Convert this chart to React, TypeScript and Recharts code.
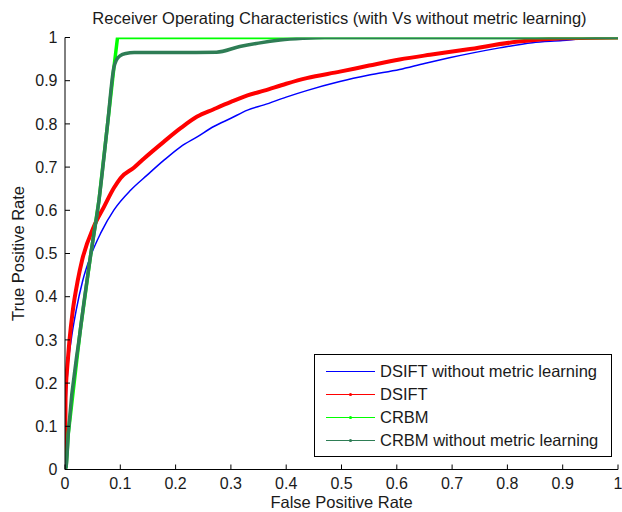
import { CartesianGrid, Legend, Line, LineChart, XAxis, YAxis } from 'recharts'

// ROC curves
const blueFpr = [0, 0.002, 0.005, 0.011, 0.02, 0.032, 0.046, 0.0645, 0.0886, 0.119, 0.149, 0.179, 0.209, 0.239, 0.269, 0.3, 0.33, 0.36, 0.4, 0.437, 0.497, 0.55, 0.605, 0.65, 0.695, 0.74, 0.786, 0.845, 0.9, 0.935, 0.97, 1]
const blueTpr = [0, 0.15, 0.23, 0.298, 0.367, 0.437, 0.493, 0.547, 0.601, 0.647, 0.682, 0.716, 0.747, 0.77, 0.794, 0.813, 0.832, 0.844, 0.862, 0.877, 0.898, 0.913, 0.926, 0.94, 0.953, 0.965, 0.976, 0.988, 0.993, 0.997, 1, 1]

const redFpr = [0, 0.001, 0.002, 0.004, 0.008, 0.014, 0.023, 0.031, 0.052, 0.0705, 0.0886, 0.1007, 0.125, 0.143, 0.179, 0.209, 0.239, 0.269, 0.3, 0.33, 0.36, 0.4, 0.437, 0.497, 0.55, 0.605, 0.66, 0.726, 0.816, 0.9, 1]
const redTpr = [0, 0.166, 0.2, 0.236, 0.298, 0.367, 0.437, 0.485, 0.562, 0.608, 0.652, 0.675, 0.699, 0.72, 0.759, 0.79, 0.817, 0.834, 0.851, 0.866, 0.877, 0.893, 0.906, 0.921, 0.935, 0.949, 0.96, 0.972, 0.99, 0.998, 1]

const greenFpr = [0, 0.002, 0.006, 0.027, 0.046, 0.0615, 0.0765, 0.0886, 0.095, 1]
const greenTpr = [0, 0.006, 0.084, 0.316, 0.493, 0.624, 0.794, 0.932, 1, 1]

const darkFpr = [0, 0.002, 0.006, 0.027, 0.046, 0.0615, 0.0765, 0.0886, 0.093, 0.1, 0.11, 0.125, 0.2, 0.274, 0.316, 0.35, 0.389, 0.43, 0.47, 1]
const darkTpr = [0, 0.006, 0.084, 0.316, 0.493, 0.624, 0.794, 0.932, 0.948, 0.958, 0.963, 0.965, 0.965, 0.966, 0.979, 0.987, 0.994, 0.998, 1, 1]

const xTicks = [0, 0.1, 0.2, 0.3, 0.4, 0.5, 0.6, 0.7, 0.8, 0.9, 1]
const yTicks = [0, 0.1, 0.2, 0.3, 0.4, 0.5, 0.6, 0.7, 0.8, 0.9, 1]

const seriesNames = ['DSIFT without metric learning', 'DSIFT', 'CRBM', 'CRBM without metric learning']
const seriesColors = ['#0000ff', '#ff0000', '#00ff00', '#2e7d55']

const toPoints = (xs: number[], ys: number[]) => xs.map((x, i) => ({ fpr: x, tpr: ys[i] }))

const FONT = '"Liberation Sans", Arial, sans-serif'
const INK = '#1a1a1a'

function LegendBox() {
  return (
    <div
      style={{
        width: 298,
        height: 103,
        border: '1px solid #000',
        background: '#fff',
        fontFamily: FONT,
        fontSize: 16.5,
        color: INK,
        paddingTop: 5,
        boxSizing: 'border-box',
      }}
    >
      {seriesNames.map((name, i) => (
        <div key={name} style={{ display: 'flex', alignItems: 'center', height: 23 }}>
          <svg width={65} height={23} style={{ flex: 'none' }}>
            <line x1={11} x2={60} y1={11.5} y2={11.5} stroke={seriesColors[i]} strokeWidth={1.2} />
            {i > 0 && <circle cx={35.5} cy={11.5} r={1.6} fill={seriesColors[i]} />}
          </svg>
          <span style={{ whiteSpace: 'nowrap', lineHeight: '23px' }}>{name}</span>
        </div>
      ))}
    </div>
  )
}

export default function App() {
  return (
    <div style={{ position: 'absolute', left: 0, top: 0, width: 622, height: 512, background: '#fff' }}>
      <div
        style={{
          position: 'absolute',
          left: 63,
          top: 8,
          width: 553,
          textAlign: 'center',
          fontFamily: FONT,
          fontSize: 16.5,
          lineHeight: '20px',
          color: INK,
          whiteSpace: 'nowrap',
        }}
      >
        Receiver Operating Characteristics (with Vs without metric learning)
      </div>
      <LineChart width={622} height={512} margin={{ top: 37.5, right: 4, bottom: 0, left: 0 }}>
        <CartesianGrid stroke="none" />
        <XAxis
          type="number"
          dataKey="fpr"
          domain={[0, 1]}
          ticks={xTicks}
          allowDataOverflow
          height={42.5}
          stroke="#000"
          tickSize={-5}
          tickMargin={13.5}
          tick={{ fill: INK, fontSize: 16, fontFamily: FONT }}
          label={{ value: 'False Positive Rate', position: 'insideBottom', offset: 4, fill: INK, fontSize: 16.5, fontFamily: FONT }}
        />
        <YAxis
          type="number"
          dataKey="tpr"
          domain={[0, 1]}
          ticks={yTicks}
          allowDataOverflow
          width={65}
          stroke="#000"
          tickSize={-5}
          tickMargin={12.5}
          tick={{ fill: INK, fontSize: 16, fontFamily: FONT }}
          label={{
            value: 'True Positive Rate',
            angle: -90,
            position: 'insideLeft',
            offset: 18,
            fill: INK,
            fontSize: 16.5,
            fontFamily: FONT,
            style: { textAnchor: 'middle' },
          }}
        />
        <Legend
          layout="vertical"
          align="center"
          verticalAlign="middle"
          content={() => <LegendBox />}
          wrapperStyle={{ left: 314, top: 354, width: 298, height: 103 }}
        />
        <Line data={toPoints(blueFpr, blueTpr)} dataKey="tpr" name={seriesNames[0]} stroke={seriesColors[0]} strokeWidth={1.5} dot={false} type="monotone" isAnimationActive={false} />
        <Line data={toPoints(redFpr, redTpr)} dataKey="tpr" name={seriesNames[1]} stroke={seriesColors[1]} strokeWidth={4} dot={false} type="monotone" isAnimationActive={false} />
        <Line data={toPoints(greenFpr, greenTpr)} dataKey="tpr" name={seriesNames[2]} stroke={seriesColors[2]} strokeWidth={3.5} dot={false} type="linear" isAnimationActive={false} />
        <Line data={toPoints(darkFpr, darkTpr)} dataKey="tpr" name={seriesNames[3]} stroke={seriesColors[3]} strokeWidth={3.5} dot={false} type="monotone" isAnimationActive={false} />
      </LineChart>
    </div>
  )
}
